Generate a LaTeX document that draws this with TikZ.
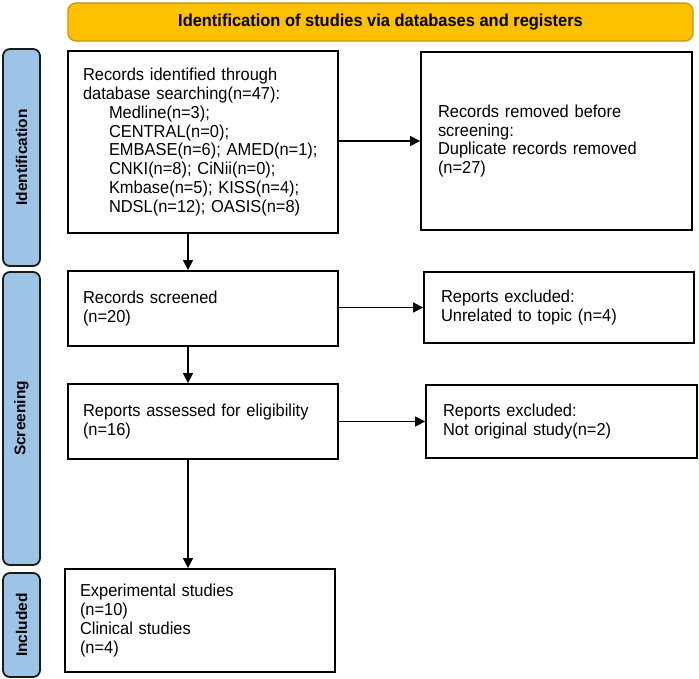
\documentclass[tikz,border=0pt]{standalone}
\usepackage{fontspec}
\setmainfont{Liberation Sans}
\newfontfamily\narrowfont[FakeStretch=0.95]{Liberation Sans}
\usetikzlibrary{arrows.meta,calc}
\definecolor{bannerfill}{HTML}{FFC000}
\definecolor{bannerdraw}{HTML}{C9960A}
\definecolor{barfill}{HTML}{9DC3E6}
\definecolor{bardraw}{HTML}{1A1A1A}
\tikzset{
  boxstyle/.style={draw=black, line width=1.8pt, fill=white, align=left, inner ysep=2pt,
    font=\narrowfont\fontsize{17.3}{18.8}\selectfont},
  bannerstyle/.style={draw=bannerdraw, line width=1.3pt, fill=bannerfill, rounded corners=8pt,
    font=\narrowfont\bfseries\fontsize{17.3}{18.8}\selectfont},
  barstyle/.style={draw=bardraw, line width=1.8pt, fill=barfill, rounded corners=7pt,
    minimum height=37pt, inner sep=0pt, rotate=90, font=\bfseries\fontsize{15.5}{17}\selectfont},
  arr/.style={draw=black, line width=1.3pt, -{Triangle[length=10pt,width=10pt]}}
}
\begin{document}
\begin{tikzpicture}[x=1pt,y=-1pt]
\useasboundingbox (0,0) rectangle (699,678);
\node[bannerstyle, minimum width=625pt, minimum height=38pt] (banner) at (380.5,22) {Identification of studies via databases and registers};
\node[barstyle, minimum width=217pt] (idbar) at (21.5,157.5) {Identification};
\node[barstyle, minimum width=293pt] (scbar) at (21.5,418.5) {Screening};
\node[barstyle, minimum width=104pt] (inbar) at (21.5,625) {Included};

\node[boxstyle, inner xsep=15pt, text width=240pt, minimum height=182pt] (b1) at (203,142)
 {Records identified through\\database searching(n=47):\\
 \hspace*{26pt}Medline(n=3);\\
 \hspace*{26pt}CENTRAL(n=0);\\
 \hspace*{26pt}EMBASE(n=6); AMED(n=1);\\
 \hspace*{26pt}CNKI(n=8); CiNii(n=0);\\
 \hspace*{26pt}Kmbase(n=5); KISS(n=4);\\
 \hspace*{26pt}NDSL(n=12); OASIS(n=8)};
\node[boxstyle, inner xsep=17pt, text width=237pt, minimum height=178pt] (b2) at (556.5,141)
 {Records removed before\\screening:\\Duplicate records removed\\(n=27)};
\node[boxstyle, inner xsep=15pt, text width=240pt, minimum height=75pt] (b3) at (203,308.5)
 {Records screened\\(n=20)};
\node[boxstyle, inner xsep=17pt, text width=236pt, minimum height=71pt] (b4) at (559,307.5)
 {Reports excluded:\\Unrelated to topic (n=4)};
\node[boxstyle, inner xsep=15pt, text width=240pt, minimum height=75pt] (b5) at (203,421.5)
 {Reports assessed for eligibility\\(n=16)};
\node[boxstyle, inner xsep=17pt, text width=237pt, minimum height=73pt] (b6) at (561.5,421.5)
 {Reports excluded:\\Not original study(n=2)};
\node[boxstyle, inner xsep=15pt, text width=240pt, minimum height=103pt] (b7) at (200,620.5)
 {Experimental studies\\(n=10)\\Clinical studies\\(n=4)};

\draw[arr] (b2.west -| b1.east) -- (b2.west);
\draw[arr] (b4.west -| b3.east) -- (b4.west);
\draw[arr] (b6.west -| b5.east) -- (b6.west);
\draw[arr] ([xshift=-15pt]b1.south) -- ([xshift=-15pt]b1.south |- b3.north);
\draw[arr] ([xshift=-15pt]b3.south) -- ([xshift=-15pt]b3.south |- b5.north);
\draw[arr] ([xshift=-15pt]b5.south) -- ([xshift=-15pt]b5.south |- b7.north);
\end{tikzpicture}
\end{document}
